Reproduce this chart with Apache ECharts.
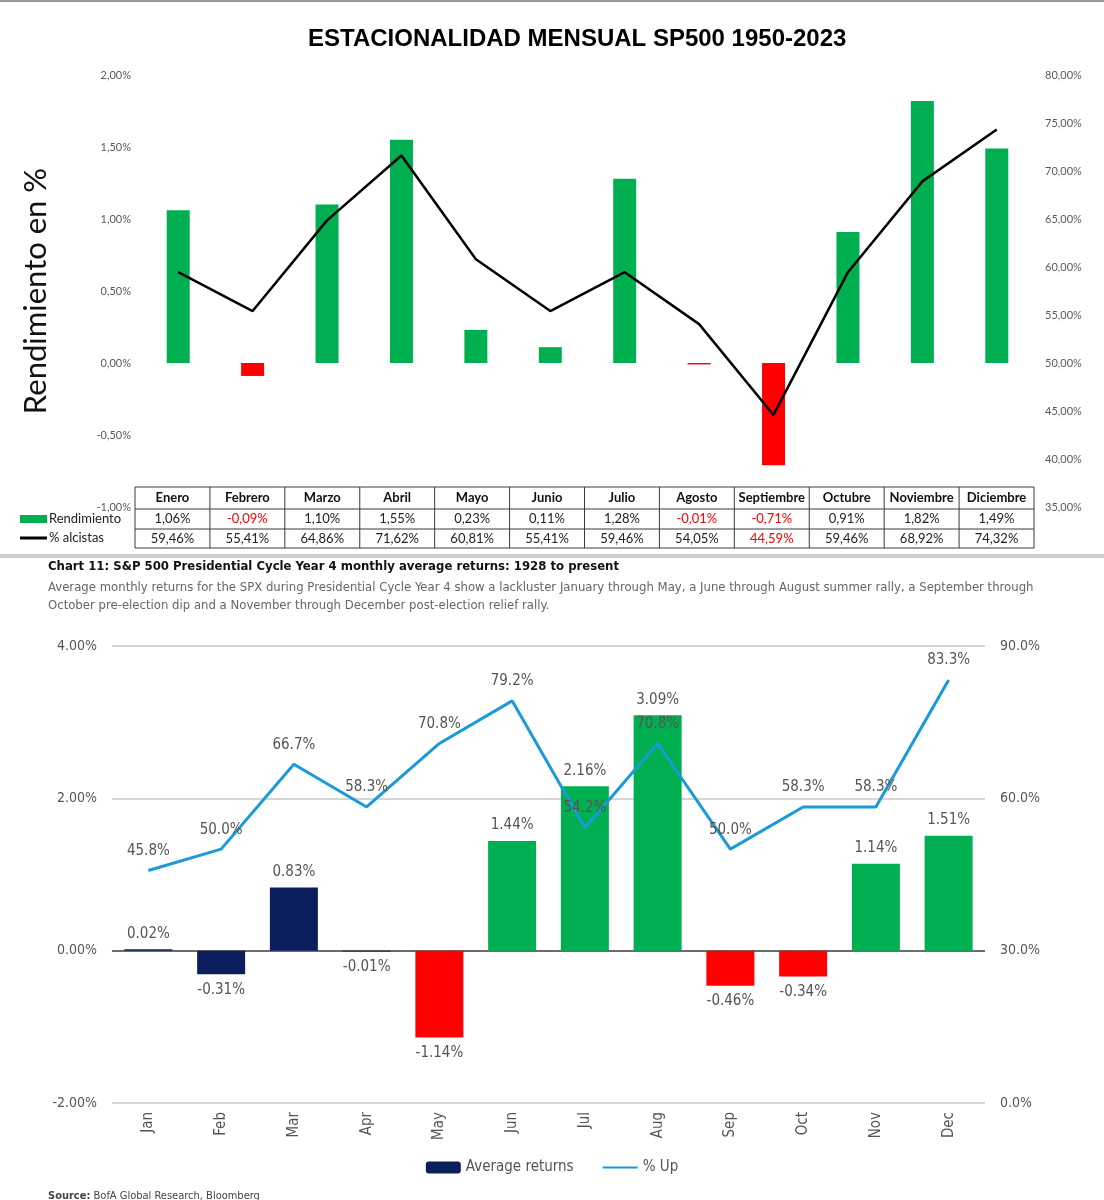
<!DOCTYPE html>
<html><head><meta charset="utf-8">
<script src="https://cdn.jsdelivr.net/npm/echarts/dist/echarts.min.js"></script>
<style>html,body{margin:0;padding:0;background:#fff;}#c{width:1104px;height:1200px;}</style>
</head><body><div id="c"></div>
<script>
// ---------- Top chart data ----------
const topMonths = ['Enero','Febrero','Marzo','Abril','Mayo','Junio','Julio','Agosto','Septiembre','Octubre','Noviembre','Diciembre'];
const topReturns = [1.06,-0.09,1.10,1.55,0.23,0.11,1.28,-0.01,-0.71,0.91,1.82,1.49];
const topUpPct = [59.46,55.41,64.86,71.62,60.81,55.41,59.46,54.05,44.59,59.46,68.92,74.32];
// ---------- Bottom chart data ----------
const botMonths = ['Jan','Feb','Mar','Apr','May','Jun','Jul','Aug','Sep','Oct','Nov','Dec'];
const botReturns = [0.02,-0.31,0.83,-0.01,-1.14,1.44,2.16,3.09,-0.46,-0.34,1.14,1.51];
const botUpPct = [45.8,50.0,66.7,58.3,70.8,79.2,54.2,70.8,50.0,58.3,58.3,83.3];

const GREEN='#00B050', RED='#FF0000', NAVY='#0B1F5E', BLUE='#1A9AD8';
const NARROW = '"Liberation Sans Narrow","DejaVu Sans Condensed",sans-serif';
const CAL = 'Lato, "Open Sans", sans-serif';
const esPct = v => v.toFixed(2).replace('.', ',') + '%';

// ---------- table graphics ----------
const tL = 135, tR = 1034, rowsY = [487, 509, 529, 548];
const colW = (tR - tL) / 12;
const tableEls = [];
const stroke = {stroke:'#3a3a3a', lineWidth:1};
rowsY.forEach(y => tableEls.push({type:'line', shape:{x1:tL,y1:y,x2:tR,y2:y}, style:stroke}));
for (let i = 0; i <= 12; i++) {
  const x = tL + i * colW;
  tableEls.push({type:'line', shape:{x1:x,y1:rowsY[0],x2:x,y2:rowsY[3]}, style:stroke});
}
topMonths.forEach((m, i) => {
  const cx = tL + (i + 0.5) * colW;
  tableEls.push({type:'text', x:cx, y:(rowsY[0]+rowsY[1])/2, style:{text:m, align:'center', verticalAlign:'middle', font:'bold 13px ' + CAL, fill:'#111'}});
  tableEls.push({type:'text', x:cx, y:(rowsY[1]+rowsY[2])/2, style:{text:esPct(topReturns[i]), align:'center', verticalAlign:'middle', font:'13px ' + CAL, fill: topReturns[i] < 0 ? RED : '#222'}});
  tableEls.push({type:'text', x:cx, y:(rowsY[2]+rowsY[3])/2, style:{text:esPct(topUpPct[i]), align:'center', verticalAlign:'middle', font:'13px ' + CAL, fill: topUpPct[i] < 50 ? RED : '#222'}});
});
tableEls.push({type:'rect', shape:{x:20,y:515,width:27,height:8}, style:{fill:GREEN}});
tableEls.push({type:'text', x:49, y:519, style:{text:'Rendimiento', verticalAlign:'middle', font:'13px ' + CAL, fill:'#222'}});
tableEls.push({type:'line', shape:{x1:20,y1:538,x2:47,y2:538}, style:{stroke:'#000', lineWidth:3}});
tableEls.push({type:'text', x:49, y:538, style:{text:'% alcistas', verticalAlign:'middle', font:'13px ' + CAL, fill:'#222'}});

const chart = echarts.init(document.getElementById('c'), null, {renderer:'canvas'});
chart.setOption({
  backgroundColor:'#fff',
  animation:false,
  title:[
    {text:'ESTACIONALIDAD MENSUAL SP500 1950-2023', left:303, top:22, textStyle:{fontFamily:'"Liberation Sans", Arial, sans-serif', fontSize:24, fontWeight:'bold', color:'#000'}},
  ],
  legend:{
    data:['Average returns', {name:'% Up', itemStyle:{opacity:0}}], left:'center', top:1155, itemWidth:35, itemHeight:12, itemGap:28,
    textStyle:{fontFamily:NARROW, fontSize:15, color:'#555'}
  },
  grid:[
    {left:141, right:70, top:75, height:432},
    {left:112, right:119, top:646, height:457}
  ],
  xAxis:[
    {type:'category', gridIndex:0, data:topMonths, axisLine:{show:false}, axisTick:{show:false}, axisLabel:{show:false}},
    {type:'category', gridIndex:1, data:botMonths, axisLine:{show:false}, axisTick:{show:false},
     axisLabel:{rotate:90, margin:9, fontFamily:NARROW, fontSize:15, color:'#555'}}
  ],
  yAxis:[
    {type:'value', gridIndex:0, min:-1, max:2, interval:0.5, splitLine:{show:false},
     axisLabel:{formatter:v => esPct(v), fontFamily:CAL, fontSize:11, color:'#595959', margin:10},
     name:'Rendimiento en %', nameLocation:'middle', nameRotate:90, nameGap:90,
     nameTextStyle:{fontFamily:CAL, fontSize:31, color:'#111'}},
    {type:'value', gridIndex:0, position:'right', min:35, max:80, interval:5, splitLine:{show:false},
     axisLabel:{formatter:v => esPct(v), fontFamily:CAL, fontSize:11, color:'#595959', margin:11}},
    {type:'value', gridIndex:1, min:-2, max:4, interval:2,
     splitLine:{lineStyle:{color:['#c8c8c8','#3a3a3a','#c8c8c8','#c8c8c8'], width:1.5}},
     axisLabel:{formatter:v => v.toFixed(2) + '%', fontFamily:NARROW, fontSize:14, color:'#555', margin:15}},
    {type:'value', gridIndex:1, position:'right', min:0, max:90, interval:30, splitLine:{show:false},
     axisLabel:{formatter:v => v.toFixed(1) + '%', fontFamily:NARROW, fontSize:14, color:'#555', margin:15}}
  ],
  series:[
    {name:'Rendimiento', type:'bar', xAxisIndex:0, yAxisIndex:0, barWidth:23,
     data: topReturns.map(v => ({value:v, itemStyle:{color: v < 0 ? RED : GREEN}}))},
    {name:'% alcistas', type:'line', xAxisIndex:0, yAxisIndex:1, symbol:'none',
     lineStyle:{color:'#000', width:2.5}, data: topUpPct},
    {name:'Average returns', type:'bar', xAxisIndex:1, yAxisIndex:2, barWidth:48, itemStyle:{color:NAVY},
     data: botReturns.map((v, i) => ({value:v,
       itemStyle:{color: i < 4 ? NAVY : (v < 0 ? RED : GREEN)},
       label:{position: v < 0 ? 'bottom' : 'top'}})),
     label:{show:true, formatter:p => p.value.toFixed(2) + '%', fontFamily:NARROW, fontSize:15, color:'#555', distance:8}},
    {name:'% Up', type:'line', xAxisIndex:1, yAxisIndex:3, symbol:'none', z:5,
     lineStyle:{color:BLUE, width:3}, itemStyle:{color:BLUE}, data: botUpPct},
    {name:'% Up labels', type:'scatter', xAxisIndex:1, yAxisIndex:3, symbolSize:0, z:6, silent:true,
     itemStyle:{opacity:1, color:BLUE}, data: botUpPct,
     label:{show:true, position:'top', distance:12, formatter:p => p.value.toFixed(1) + '%', fontFamily:NARROW, fontSize:15, color:'#555'}}
  ],
  graphic:[
    {type:'rect', shape:{x:0,y:0,width:1104,height:2}, style:{fill:'#9a9a9a'}},
    {type:'group', children: tableEls},
    {type:'rect', shape:{x:0,y:554,width:1104,height:4}, style:{fill:'#cdd1cd'}},
    {type:'text', x:48, y:560, style:{text:'Chart 11: S&P 500 Presidential Cycle Year 4 monthly average returns: 1928 to present', font:'bold 13px ' + NARROW, fill:'#111'}},
    {type:'text', x:48, y:579, style:{text:'Average monthly returns for the SPX during Presidential Cycle Year 4 show a lackluster January through May, a June through August summer rally, a September through\nOctober pre-election dip and a November through December post-election relief rally.', font:'13px ' + NARROW, fill:'#666', lineHeight:18}},
    {type:'text', x:48, y:1191, style:{text:'{b|Source:} BofA Global Research, Bloomberg', font:'11px ' + NARROW, fill:'#444', rich:{b:{fontWeight:'bold', fontSize:11, fontFamily:NARROW}}}}
  ]
});
</script></body></html>
